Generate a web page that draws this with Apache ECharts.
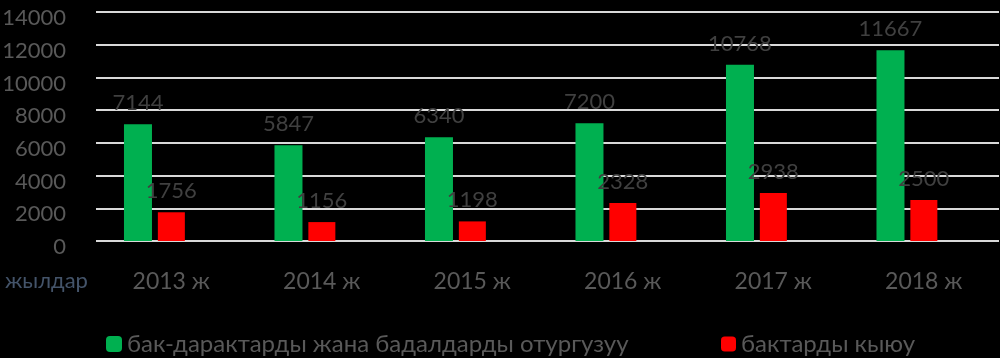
<!DOCTYPE html>
<html>
<head>
<meta charset="utf-8">
<script src="https://cdn.jsdelivr.net/npm/echarts@6/dist/echarts.min.js"></script>
<style>
html,body{margin:0;padding:0;background:#000;}
#c{width:1000px;height:358px;}
</style>
</head>
<body>
<div id="c"></div>
<script>
var categories = ['2013 ж', '2014 ж', '2015 ж', '2016 ж', '2017 ж', '2018 ж'];
var planted = [7144, 5847, 6340, 7200, 10768, 11667];
var cut = [1756, 1156, 1198, 2328, 2938, 2500];
var emptySeries = [null, null, null, null, null, null];
var seriesNames = ['бак-дарактарды жана бадалдарды отургузуу', 'бактарды кыюу'];
var axisTitle = 'жылдар';

var FONT = 'Lato';
var chart = echarts.init(document.getElementById('c'), null, {renderer: 'canvas'});
var labelStyle = {show: true, position: 'top', distance: 10, color: '#404040', fontSize: 22, fontFamily: FONT};
chart.setOption({
  backgroundColor: '#000',
  animation: false,
  grid: {left: 96, right: 1, top: 12, bottom: 117, outerBoundsMode: 'none', containLabel: false},
  legend: [
    {left: 101, top: 327, itemWidth: 16, itemHeight: 16, itemGap: 0, data: [seriesNames[0]],
     textStyle: {color: '#595959', fontSize: 24, fontFamily: FONT, verticalAlign: 'top', lineHeight: 10}},
    {left: 716, top: 327, itemWidth: 15, itemHeight: 15, itemGap: 0, data: [seriesNames[1]],
     textStyle: {color: '#595959', fontSize: 24, fontFamily: FONT, verticalAlign: 'top', lineHeight: 10}}
  ],
  graphic: [{type: 'text', left: 5, top: 270, style: {text: axisTitle, fill: '#44546A', font: '22px ' + FONT}}],
  xAxis: {
    type: 'category', data: categories,
    axisLine: {show: false}, axisTick: {show: false},
    axisLabel: {color: '#595959', fontSize: 23, fontFamily: FONT, margin: 29}
  },
  yAxis: {
    type: 'value', min: 0, max: 14000, interval: 2000,
    axisLine: {show: false}, axisTick: {show: false},
    axisLabel: {color: '#595959', fontSize: 22, fontFamily: FONT, margin: 30,
      verticalAlign: 'top', lineHeight: 12,
      formatter: function (v) { return String(v); }},
    splitLine: {lineStyle: {color: '#d9d9d9', width: 2}}
  },
  series: [
    {name: seriesNames[0], type: 'bar', data: planted, barWidth: 28, barGap: '21%',
     itemStyle: {color: '#00B050'}, label: labelStyle},
    {name: seriesNames[1], type: 'bar', data: cut, barWidth: 27, barGap: '21%',
     itemStyle: {color: '#FF0000'}, label: labelStyle},
    {name: 'empty', type: 'bar', data: emptySeries, barWidth: 28, barGap: '21%',
     itemStyle: {color: 'transparent'}}
  ]
});
</script>
</body>
</html>
